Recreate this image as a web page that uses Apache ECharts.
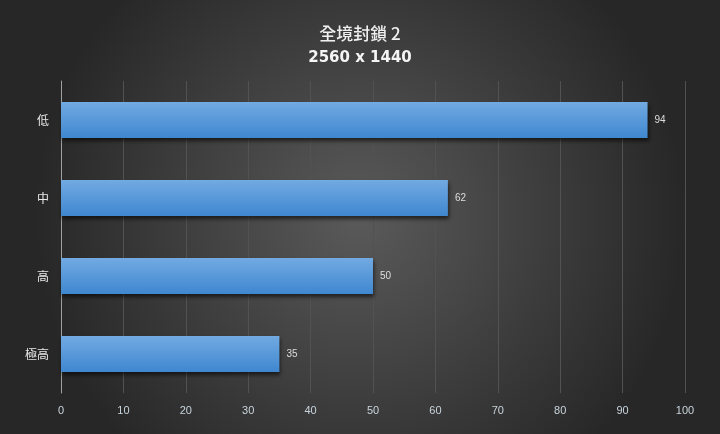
<!DOCTYPE html>
<html><head><meta charset="utf-8">
<script src="https://cdn.jsdelivr.net/npm/echarts@6/dist/echarts.min.js"></script>
<style>html,body{margin:0;padding:0;background:#333;}#c{width:720px;height:434px;}</style>
</head><body><div id="c"></div>
<script>
const titleText = '全境封鎖 2';
const subtitleText = '2560 x 1440';
const categories = ['低', '中', '高', '極高'];
const values = [94, 62, 50, 35];
const xTicks = [0, 10, 20, 30, 40, 50, 60, 70, 80, 90, 100];

const chart = echarts.init(document.getElementById('c'));
chart.setOption({
  backgroundColor: new echarts.graphic.RadialGradient(0.5, 0.5, 0.75, [
    {offset: 0, color: '#5a5a5a'},
    {offset: 1, color: '#272727'}
  ]),
  title: {
    text: titleText, subtext: subtitleText, left: 'center', top: 20, itemGap: 9,
    textStyle: {color: '#f0f0f0', fontSize: 17, fontWeight: 500, fontFamily: 'Noto Sans CJK TC'},
    subtextStyle: {color: '#f5f5f5', fontSize: 15, fontWeight: 'bold', fontFamily: 'DejaVu Sans'}
  },
  grid: {left: 61, right: 35, top: 81, bottom: 41, containLabel: false},
  xAxis: {
    type: 'value', min: xTicks[0], max: xTicks[xTicks.length - 1], interval: 10,
    axisLine: {show: false}, axisTick: {show: false},
    axisLabel: {color: '#c8d4dc', fontSize: 11, margin: 12},
    splitLine: {lineStyle: {color: '#525252', width: 1}}
  },
  yAxis: {
    type: 'category', data: categories, inverse: true,
    axisLine: {lineStyle: {color: '#a0a0a0', width: 1}}, axisTick: {show: false},
    axisLabel: {color: '#e8e8e8', fontSize: 12, margin: 12, fontFamily: 'Noto Sans CJK TC'}
  },
  series: [{
    type: 'bar', data: values, barWidth: 36,
    itemStyle: {
      color: new echarts.graphic.LinearGradient(0, 0, 0, 1, [
        {offset: 0, color: '#72aae2'},
        {offset: 1, color: '#3f87d0'}
      ]),
      shadowColor: 'rgba(0,0,0,0.6)', shadowBlur: 4, shadowOffsetY: 3, shadowOffsetX: 1
    },
    label: {show: true, position: 'right', color: '#dddddd', fontSize: 10, distance: 7}
  }]
});
</script></body></html>
